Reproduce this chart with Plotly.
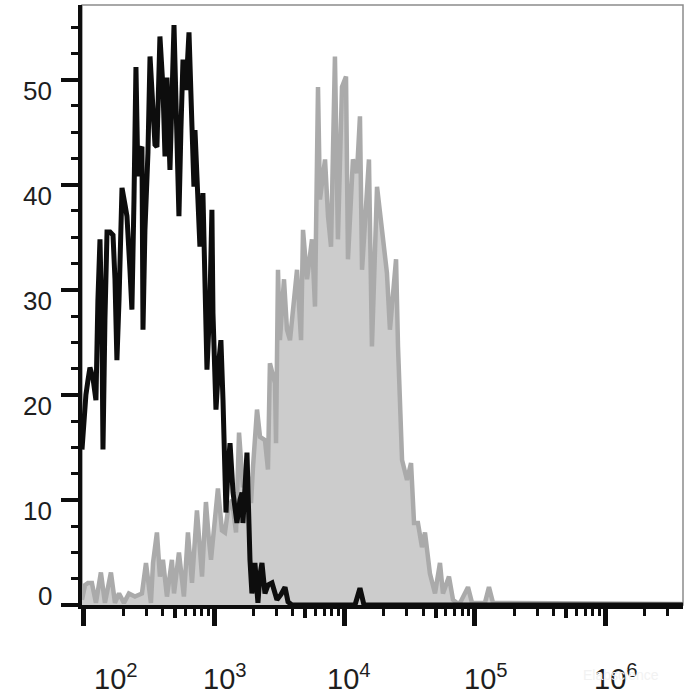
import numpy as np
import plotly.graph_objects as go

# Isotype control (black outline), log10 of fluorescence intensity vs count
ctrl_log = [1.985, 2.000, 2.015, 2.031, 2.046, 2.069, 2.092, 2.107, 2.123, 2.138,
            2.146, 2.161, 2.177, 2.200, 2.223, 2.238, 2.253, 2.269, 2.292, 2.315,
            2.330, 2.353, 2.368, 2.384, 2.399, 2.414, 2.430, 2.445, 2.453, 2.468,
            2.491, 2.507, 2.522, 2.545, 2.560, 2.583, 2.606, 2.622, 2.637, 2.660,
            2.691, 2.714, 2.729, 2.744, 2.760, 2.783, 2.806, 2.829, 2.844, 2.852,
            2.875, 2.890, 2.913, 2.929, 2.944, 2.967, 2.982, 2.990, 3.013, 3.036,
            3.051, 3.067, 3.090, 3.105, 3.121, 3.144, 3.174, 3.197, 3.213, 3.220,
            3.251, 3.274, 3.289, 3.312, 3.335, 3.351, 3.366, 3.389, 3.412, 3.443,
            3.466, 3.481, 3.512, 3.543, 3.566, 3.596, 4.080, 4.118, 4.149, 6.597]
ctrl_count = [14.8, 18.1, 20.0, 21.4, 22.6, 21.6, 19.5, 29.0, 34.8, 26.2,
              14.8, 27.1, 35.5, 35.5, 35.2, 31.0, 23.3, 29.0, 39.7, 38.1,
              37.0, 31.9, 28.1, 38.6, 51.2, 40.8, 43.3, 43.6, 26.2, 35.7,
              43.0, 52.2, 48.1, 43.8, 43.6, 54.1, 49.3, 42.7, 50.2, 41.4,
              55.2, 46.2, 37.0, 45.2, 51.9, 49.0, 54.5, 45.5, 39.8, 45.2,
              39.2, 34.1, 39.2, 27.8, 22.4, 29.0, 37.6, 27.8, 18.6, 23.3,
              25.2, 19.5, 8.8, 12.9, 15.4, 10.7, 7.8, 10.0, 10.7, 7.8,
              14.5, 4.3, 1.1, 4.0, 0.2, 2.9, 4.0, 1.1, 1.9, 2.1,
              1.0, 0.5, 1.0, 1.7, 0.3, 0.0, 0.0, 1.6, 0.0, 0.0]

# Stained sample (grey filled)
stain_log = [1.985, 2.008, 2.031, 2.061, 2.092, 2.130, 2.161, 2.207, 2.238, 2.269,
             2.307, 2.345, 2.391, 2.445, 2.476, 2.499, 2.514, 2.530, 2.560, 2.583,
             2.606, 2.637, 2.675, 2.691, 2.729, 2.767, 2.798, 2.829, 2.867, 2.906,
             2.936, 2.959, 2.975, 3.028, 3.059, 3.082, 3.105, 3.136, 3.167, 3.190,
             3.220, 3.251, 3.282, 3.297, 3.328, 3.351, 3.389, 3.412, 3.427, 3.466,
             3.474, 3.489, 3.504, 3.535, 3.558, 3.581, 3.604, 3.635, 3.666, 3.681,
             3.712, 3.750, 3.773, 3.796, 3.811, 3.850, 3.873, 3.896, 3.926, 3.949,
             3.980, 4.011, 4.026, 4.064, 4.095, 4.118, 4.134, 4.164, 4.187, 4.210,
             4.249, 4.287, 4.325, 4.348, 4.395, 4.410, 4.425, 4.441, 4.479, 4.510,
             4.533, 4.563, 4.594, 4.617, 4.655, 4.694, 4.732, 4.755, 4.801, 4.832,
             4.863, 4.886, 4.947, 4.978, 5.077, 5.108, 5.139, 6.597]
stain_count = [0.5, 1.9, 2.1, 2.1, 0.2, 3.1, 0.2, 3.1, 0.2, 1.1,
               0.2, 1.1, 0.8, 1.1, 4.0, 1.4, 0.2, 4.0, 6.9, 2.7,
               4.3, 0.8, 4.3, 1.1, 5.0, 0.8, 6.9, 2.1, 9.0, 2.7,
               9.8, 6.2, 4.3, 11.1, 7.1, 6.9, 9.0, 10.0, 6.9, 16.4,
               11.2, 12.9, 9.7, 13.1, 18.6, 16.0, 15.7, 12.9, 23.0, 21.1,
               15.4, 31.9, 25.2, 31.0, 26.2, 25.2, 28.1, 31.9, 25.2, 35.7,
               31.0, 34.8, 28.4, 49.3, 38.6, 42.4, 37.0, 34.1, 52.2, 34.8,
               49.3, 50.3, 32.9, 42.4, 41.1, 46.5, 31.9, 38.6, 42.4, 24.6,
               39.8, 35.7, 31.6, 26.2, 32.9, 24.6, 19.5, 13.8, 11.9, 13.5,
               7.8, 7.8, 5.5, 6.9, 3.0, 1.1, 4.0, 1.1, 2.7, 0.5,
               0.2, 0.2, 1.7, 0.2, 0.2, 1.7, 0.2, 0.1]

y_ticks = [0, 10, 20, 30, 40, 50]
x_decades = [2, 3, 4, 5, 6]
x_labels = ["10<sup>2</sup>", "10<sup>3</sup>", "10<sup>4</sup>", "10<sup>5</sup>", "10<sup>6</sup>"]

x_range = [1.985, 6.597]
y_range = [0, 57.1]

minor_vals = [k * 10.0 ** d for d in range(2, 7) for k in (2, 3, 4, 6, 7, 8, 9)]
mid_vals = [5 * 10.0 ** d for d in range(2, 6)]

fig = go.Figure()

fig.add_trace(go.Scatter(
    x=10 ** np.array(stain_log), y=stain_count,
    mode="lines", fill="tozeroy",
    line=dict(color="#aaaaaa", width=4.5),
    fillcolor="#cccccc",
    showlegend=False
))
fig.add_trace(go.Scatter(
    x=10 ** np.array(ctrl_log), y=ctrl_count,
    mode="lines",
    line=dict(color="#0d0d0d", width=5),
    showlegend=False
))
# empty trace so the overlay axis with the 5x ticks gets drawn
fig.add_trace(go.Scatter(x=[], y=[], xaxis="x2", showlegend=False))

axis_font = dict(family="Arial, Liberation Sans, sans-serif", color="#1e1e1e")

fig.update_layout(
    width=700, height=700,
    margin=dict(l=82, r=17, t=5, b=95),
    paper_bgcolor="white", plot_bgcolor="white",
    xaxis=dict(
        type="log", range=x_range,
        showgrid=False, zeroline=False,
        showline=True, linecolor="#0d0d0d", linewidth=4,
        tickmode="array", tickvals=[10.0 ** d for d in x_decades],
        ticks="outside", ticklen=17, tickwidth=5, tickcolor="#0d0d0d",
        showticklabels=False,
        minor=dict(tickmode="array", tickvals=minor_vals, ticks="outside",
                   ticklen=7, tickwidth=3, tickcolor="#0d0d0d", showgrid=False),
    ),
    xaxis2=dict(
        type="log", range=x_range, overlaying="x", side="bottom",
        showgrid=False, zeroline=False, showline=False,
        tickmode="array", tickvals=mid_vals,
        ticks="outside", ticklen=12, tickwidth=4, tickcolor="#0d0d0d",
        showticklabels=False,
    ),
    yaxis=dict(
        range=y_range,
        showgrid=False, zeroline=False,
        showline=True, linecolor="#0d0d0d", linewidth=4,
        tickmode="array", tickvals=y_ticks,
        ticks="outside", ticklen=17, tickwidth=4, tickcolor="#0d0d0d",
        showticklabels=False,
        minor=dict(dtick=2.5, ticks="outside", ticklen=7, tickwidth=3,
                   tickcolor="#0d0d0d", showgrid=False),
    ),
    shapes=[dict(type="rect", xref="paper", yref="paper", x0=0, x1=1, y0=0, y1=1,
                 line=dict(color="#8c8c8c", width=1.5), layer="below")],
)

# y tick labels (the reference draws them slightly below each tick, "0" above)
y_shift = [9, -11, -11, -11, -11, -11]
for v, s in zip(y_ticks, y_shift):
    fig.add_annotation(x=0, xref="paper", y=v, yref="y", text=str(v),
                       showarrow=False, xanchor="right", yanchor="middle",
                       xshift=-28, yshift=s, font=dict(size=26, **axis_font))

# x tick labels, placed a little right of each decade tick like the reference
x_shift = [8, -13, -20, -13, -13]
for d, lab, s in zip(x_decades, x_labels, x_shift):
    fig.add_annotation(x=d, xref="x", y=0, yref="paper", text=lab,
                       showarrow=False, xanchor="left", yanchor="top",
                       xshift=s, yshift=-52, font=dict(size=29, **axis_font))

fig.add_annotation(x=1, xref="paper", y=0, yref="paper", text="Elabscience",
                   showarrow=False, xanchor="right", yanchor="top",
                   xshift=-22, yshift=-60, font=dict(size=14, color="#f2f2f2",
                                                     family="Arial, Liberation Sans, sans-serif"))

# drop the browser's default page margin so the figure sits at the window corner
fig.write_html("out.html", config={"displayModeBar": False},
               post_script="document.body.style.margin='0';")
